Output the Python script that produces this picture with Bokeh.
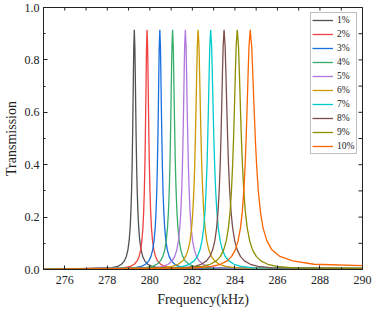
import math
from bokeh.plotting import figure
from bokeh.models import Range1d, FixedTicker, PrintfTickFormatter, Legend, LegendItem
from bokeh.embed import file_html
from bokeh.resources import INLINE

# ---- data ----
labels = ["1%", "2%", "3%", "4%", "5%", "6%", "7%", "8%", "9%", "10%"]
colors = ["#515151", "#F14040", "#1A6FDF", "#37AD6B", "#B177DE",
          "#CC9900", "#00CBCC", "#7D4E4E", "#8E8E00", "#FB6501"]

# resonance centre frequency (kHz) and common peak transmission
centers = [279.27, 279.87, 280.47, 281.07, 281.67, 282.27, 282.86, 283.49, 284.11, 284.72]
peak = 0.915

# transmission levels at which each curve's flanks were read
levels = [0.85, 0.75, 0.62, 0.50, 0.40, 0.30, 0.22, 0.16, 0.11, 0.075, 0.05, 0.033, 0.02, 0.012, 0.006]

# frequency (kHz) where each curve crosses those levels: left flank / right flank
c1_left = [279.245, 279.228, 279.208, 279.188, 279.168, 279.141, 279.110, 279.075, 279.027, 278.969, 278.896, 278.805, 278.668, 278.489, 278.162]
c1_right = [279.296, 279.315, 279.336, 279.357, 279.378, 279.406, 279.439, 279.476, 279.527, 279.588, 279.665, 279.761, 279.906, 280.094, 280.439]
c2_left = [279.845, 279.828, 279.808, 279.788, 279.768, 279.741, 279.710, 279.675, 279.627, 279.569, 279.496, 279.405, 279.268, 279.089, 278.762]
c2_right = [279.896, 279.915, 279.936, 279.957, 279.978, 280.006, 280.039, 280.076, 280.127, 280.188, 280.265, 280.361, 280.506, 280.694, 281.039]
c3_left = [280.442, 280.423, 280.401, 280.379, 280.356, 280.327, 280.292, 280.253, 280.199, 280.135, 280.054, 279.953, 279.801, 279.602, 279.239]
c3_right = [280.499, 280.519, 280.542, 280.566, 280.589, 280.620, 280.657, 280.698, 280.754, 280.821, 280.907, 281.013, 281.172, 281.381, 281.763]
c4_left = [281.040, 281.018, 280.994, 280.970, 280.945, 280.912, 280.875, 280.831, 280.772, 280.702, 280.613, 280.501, 280.334, 280.116, 279.716]
c4_right = [281.102, 281.124, 281.149, 281.175, 281.201, 281.235, 281.274, 281.320, 281.381, 281.455, 281.548, 281.665, 281.839, 282.068, 282.486]
c5_left = [281.637, 281.614, 281.587, 281.561, 281.534, 281.498, 281.457, 281.409, 281.345, 281.268, 281.171, 281.050, 280.867, 280.629, 280.193]
c5_right = [281.705, 281.729, 281.756, 281.784, 281.812, 281.849, 281.892, 281.942, 282.008, 282.088, 282.190, 282.316, 282.506, 282.754, 283.209]
c6_left = [282.231, 282.204, 282.173, 282.142, 282.111, 282.070, 282.021, 281.966, 281.891, 281.801, 281.688, 281.546, 281.333, 281.055, 280.547]
c6_right = [282.312, 282.340, 282.374, 282.407, 282.440, 282.485, 282.537, 282.596, 282.676, 282.772, 282.894, 283.046, 283.274, 283.571, 284.117]
c7_left = [282.818, 282.790, 282.756, 282.723, 282.690, 282.645, 282.593, 282.534, 282.454, 282.358, 282.236, 282.084, 281.856, 281.559, 281.013]
c7_right = [282.906, 282.937, 282.974, 283.010, 283.047, 283.096, 283.153, 283.218, 283.306, 283.412, 283.546, 283.713, 283.964, 284.291, 284.891]
c8_left = [283.446, 283.415, 283.380, 283.344, 283.308, 283.261, 283.206, 283.142, 283.057, 282.954, 282.825, 282.663, 282.420, 282.102, 281.520]
c8_right = [283.541, 283.577, 283.618, 283.659, 283.700, 283.755, 283.819, 283.892, 283.990, 284.109, 284.259, 284.446, 284.728, 285.095, 285.767]
c9_left = [284.057, 284.021, 283.979, 283.937, 283.894, 283.838, 283.772, 283.697, 283.596, 283.474, 283.320, 283.128, 282.839, 282.462, 281.771]
c9_right = [284.170, 284.211, 284.258, 284.306, 284.354, 284.418, 284.492, 284.577, 284.692, 284.830, 285.004, 285.222, 285.548, 285.975, 286.757]
c10_left = [284.662, 284.622, 284.575, 284.529, 284.482, 284.419, 284.347, 284.264, 284.152, 284.017, 283.847, 283.634, 283.315, 282.898, 282.135]
c10_right = [284.790, 284.840, 284.900, 284.960, 285.020, 285.100, 285.200, 285.320, 285.500, 285.740, 286.120, 286.720, 287.720, 291.500, 296.000]

# residual transmission at the two ends of the frequency window
tail_275 = [0.0005] * 10
tail_290 = [0.001, 0.001, 0.002, 0.002, 0.003, 0.003, 0.004, 0.004, 0.005, 0.015]

x_ticks = [276, 278, 280, 282, 284, 286, 288, 290]
x_minor = [275, 277, 279, 281, 283, 285, 287, 289]
y_ticks = [0.0, 0.2, 0.4, 0.6, 0.8, 1.0]
y_minor = [0.1, 0.3, 0.5, 0.7, 0.9]
top_ticks = [275, 276, 277, 278, 279, 280, 281, 282, 283, 284, 285, 286, 287, 288, 289, 290]
right_ticks = [0.0, 0.1, 0.2, 0.3, 0.4, 0.5, 0.6, 0.7, 0.8, 0.9, 1.0]

lefts = [c1_left, c2_left, c3_left, c4_left, c5_left, c6_left, c7_left, c8_left, c9_left, c10_left]
rights = [c1_right, c2_right, c3_right, c4_right, c5_right, c6_right, c7_right, c8_right, c9_right, c10_right]

FONT = "Liberation Serif"
INK = "#222222"

p = figure(width=373, height=312, x_range=Range1d(275, 290), y_range=Range1d(0, 1.0),
           output_backend="svg", toolbar_location=None,
           min_border_top=7, min_border_right=11, min_border_left=39, min_border_bottom=43)
p.xgrid.visible = False
p.ygrid.visible = False
p.outline_line_color = INK
p.outline_line_width = 1

renderers = []
for i in range(10):
    xs = [275.0] + lefts[i][::-1] + [centers[i]] + rights[i]
    ys = [tail_275[i]] + levels[::-1] + [peak] + levels
    if rights[i][-1] < 290:
        xs = xs + [290.0]
        ys = ys + [tail_290[i]]
    r = p.line(xs, ys, line_color=colors[i], line_width=1.3)
    renderers.append(r)

# mirrored tick marks on the top and right frame edges (half of each dash is clipped)
p.scatter(top_ticks, [1.0] * len(top_ticks), marker="dash", size=6, angle=math.pi / 2,
          line_color=INK, line_width=1)
p.scatter([290.0] * len(right_ticks), right_ticks, marker="dash", size=8,
          line_color=INK, line_width=1)

xa = p.xaxis[0]
xa.ticker = FixedTicker(ticks=x_ticks, minor_ticks=x_minor)
ya = p.yaxis[0]
ya.ticker = FixedTicker(ticks=y_ticks, minor_ticks=y_minor)
ya.formatter = PrintfTickFormatter(format="%.1f")
for ax in (xa, ya):
    ax.major_tick_in = 4
    ax.major_tick_out = 0
    ax.minor_tick_in = 2
    ax.minor_tick_out = 0
    ax.axis_line_color = INK
    ax.major_tick_line_color = INK
    ax.minor_tick_line_color = INK
    ax.major_label_text_font = FONT
    ax.major_label_text_font_size = "12px"
    ax.major_label_text_color = INK
    ax.axis_label_text_font = FONT
    ax.axis_label_text_font_size = "14px"
    ax.axis_label_text_font_style = "normal"
    ax.axis_label_text_color = INK
xa.axis_label = "Frequency(kHz)"
ya.axis_label = "Transmission"
xa.major_label_standoff = 6
xa.axis_label_standoff = 5
ya.major_label_standoff = 4
ya.axis_label_standoff = 3

legend = Legend(items=[LegendItem(label=labels[i], renderers=[renderers[i]]) for i in range(10)],
                location="top_right", margin=5, padding=1, spacing=2,
                glyph_width=21, glyph_height=12, label_height=12, label_width=18, label_standoff=4,
                label_text_font=FONT, label_text_font_size="9.5px", label_text_color=INK,
                border_line_color="#808080", border_line_width=1,
                background_fill_color="white", background_fill_alpha=1)
p.add_layout(legend)

open("out.html", "w").write(file_html(p, INLINE))
